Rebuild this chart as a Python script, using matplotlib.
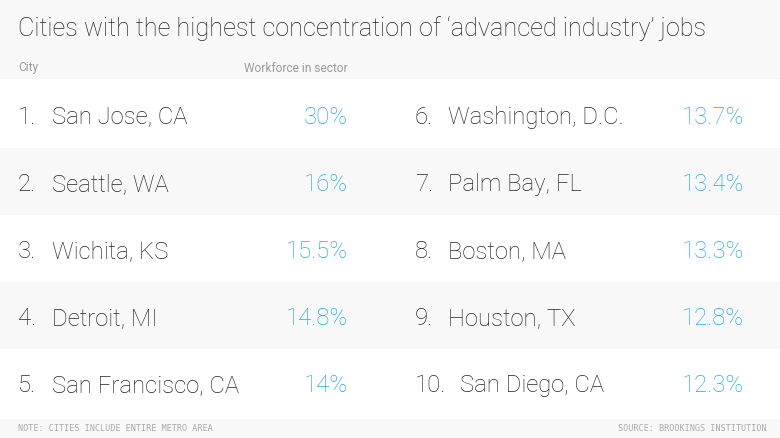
import matplotlib.pyplot as plt
from matplotlib.patches import Rectangle

title = "Cities with the highest concentration of \u2018advanced industry\u2019 jobs"
col_city = "City"
col_share = "Workforce in sector"
left_cities = ["San Jose, CA", "Seattle, WA", "Wichita, KS", "Detroit, MI", "San Francisco, CA"]
left_shares = [30, 16, 15.5, 14.8, 14]
right_cities = ["Washington, D.C.", "Palm Bay, FL", "Boston, MA", "Houston, TX", "San Diego, CA"]
right_shares = [13.7, 13.4, 13.3, 12.8, 12.3]
note = "NOTE: CITIES INCLUDE ENTIRE METRO AREA"
source = "SOURCE: BROOKINGS INSTITUTION"

W, H = 780, 439
GRAY = "#f8f8f8"
DARK = "#262626"
BLUE = "#22a9e2"
FONT = ["Roboto", "DejaVu Sans"]
FS = 17.2

fig = plt.figure(figsize=(7.8, 4.39), dpi=100)
ax = fig.add_axes([0, 0, 1, 1])
ax.set_xlim(0, W)
ax.set_ylim(H, 0)
ax.axis("off")

# header and footer bands
ax.add_patch(Rectangle((0, 0), W, 80, color=GRAY, lw=0))
ax.add_patch(Rectangle((0, 420), W, 19, color=GRAY, lw=0))

ax.text(18, 29, title, fontsize=18.2, color=DARK, va="center", ha="left",
        family=FONT, weight="light")
ax.text(18, 68, col_city, fontsize=8.6, color="#9a9a9a", va="center",
        family=FONT)
ax.text(244, 68, col_share, fontsize=8.6, color="#9a9a9a", va="center",
        family=FONT)

row_h = 67.2
top = 81.5
for i in range(5):
    y0 = top + i * row_h
    if i % 2 == 1:
        ax.add_patch(Rectangle((0, y0), W, row_h, color=GRAY, lw=0))
    yc = y0 + row_h / 2 + 2
    # left column
    ax.text(18, yc, f"{i + 1}.", fontsize=FS, color=DARK, va="center",
            family=FONT, weight="light")
    ax.text(52, yc, left_cities[i], fontsize=FS, color=DARK, va="center",
            family=FONT, weight="light")
    ax.text(348, yc, f"{left_shares[i]:g}%", fontsize=FS, color=BLUE, va="center",
            ha="right", family=FONT, weight="light")
    # right column
    n = i + 6
    ax.text(415, yc, f"{n}.", fontsize=FS, color=DARK, va="center",
            family=FONT, weight="light")
    ax.text(460 if n == 10 else 448, yc, right_cities[i], fontsize=FS, color=DARK,
            va="center", family=FONT, weight="light")
    ax.text(744, yc, f"{right_shares[i]:g}%", fontsize=FS, color=BLUE, va="center",
            ha="right", family=FONT, weight="light")

ax.text(18, 429, note, fontsize=6.1, color="#aaaaaa", va="center",
        family="DejaVu Sans Mono")
ax.text(767, 429, source, fontsize=6.1, color="#aaaaaa", va="center", ha="right",
        family="DejaVu Sans Mono")

fig.savefig("out.png", dpi=100)
